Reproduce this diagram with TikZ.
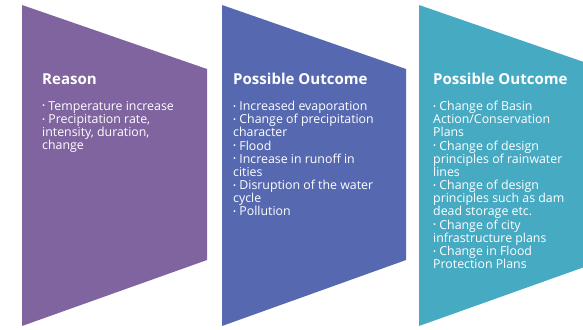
\documentclass[tikz,border=0pt]{standalone}
\usepackage{fontspec}
\setmainfont{Open Sans}

\definecolor{reasonpurple}{HTML}{7F64A0}
\definecolor{outcomeblue}{HTML}{5669B0}
\definecolor{planteal}{HTML}{46AAC3}

\tikzset{
  head/.style={anchor=base west,inner sep=0pt,text=white,font=\fontsize{15.1}{17}\selectfont\bfseries},
  items/.style={anchor=north west,inner sep=0pt,text=white,align=left,font=\fontsize{12.4}{13.2}\selectfont},
}
\newcommand{\itm}{{\fontsize{8}{8}\selectfont\raisebox{0.3ex}{•}} }

\begin{document}
\begin{tikzpicture}[x=1bp,y=-1bp]

    \clip (0,0) rectangle (583,329);

    % chevron blocks
    \fill[reasonpurple] (22,5) -- (207,69) -- (207,260) -- (22,326) -- cycle;
    \fill[outcomeblue] (222,5) -- (406,69) -- (406,260) -- (222,326) -- cycle;
    \fill[planteal] (419,5) -- (604,69) -- (604,260) -- (419,326) -- cycle;

    % headings
    \node[head] (reasonhead) at (42,84) {Reason};
    \node[head] (outcomehead) at (233,84) {Possible Outcome};
    \node[head] (planhead) at (433,84) {Possible Outcome};

    % item lists
    \node[items] (reasonlist) at (42,101) {\itm Temperature increase\\
        \itm Precipitation rate,\\intensity, duration,\\change};

    \node[items] (outcomelist) at (233,101) {\itm Increased evaporation\\
        \itm Change of precipitation\\character\\
        \itm Flood\\
        \itm Increase in runoff in\\cities\\
        \itm Disruption of the water\\cycle\\
        \itm Pollution};

    \node[items] (planlist) at (433,101) {\itm Change of Basin\\Action/Conservation\\Plans\\
        \itm Change of design\\principles of rainwater\\lines\\
        \itm Change of design\\principles such as dam\\dead storage etc.\\
        \itm Change of city\\infrastructure plans\\
        \itm Change in Flood\\Protection Plans};

\end{tikzpicture}
\end{document}
